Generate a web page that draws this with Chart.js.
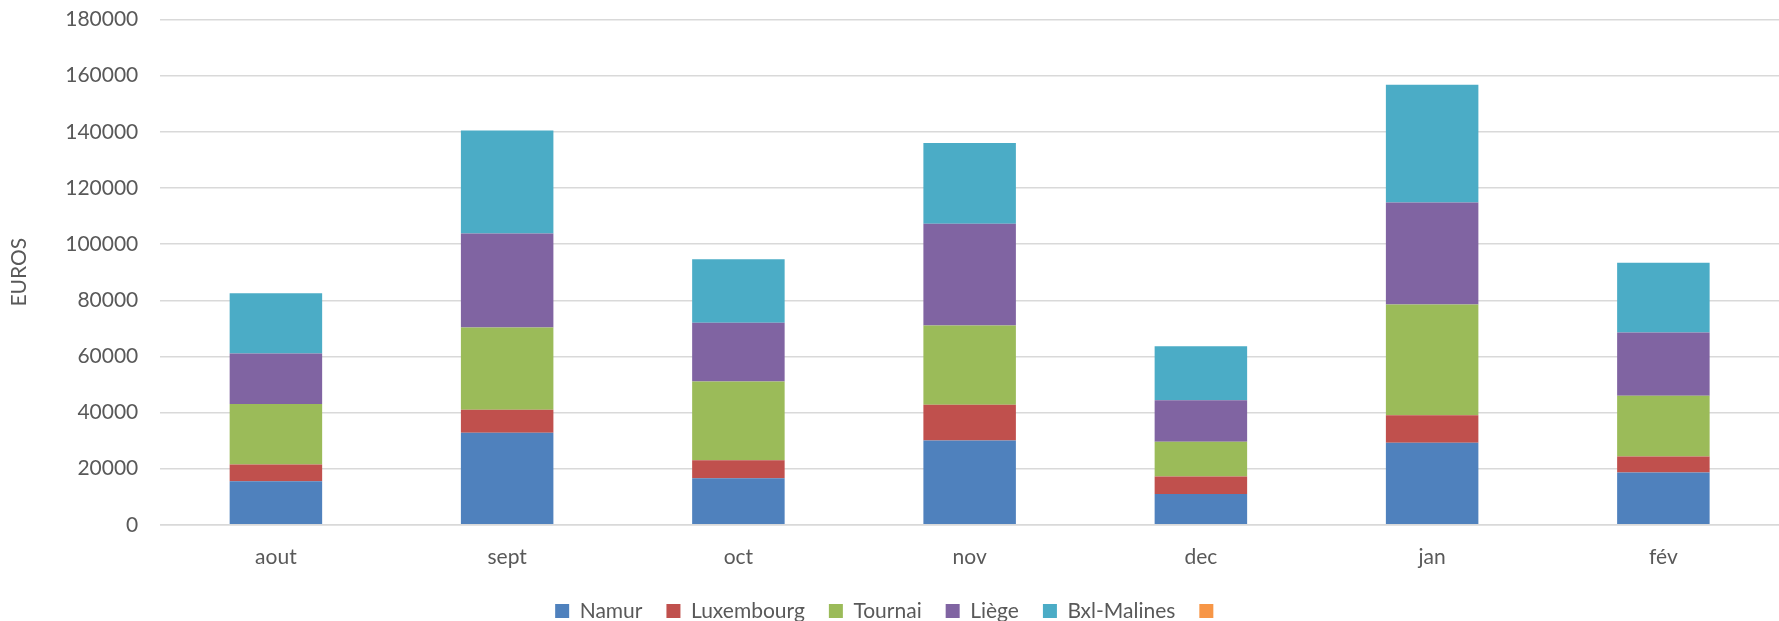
<!DOCTYPE html>
<html>
<head>
<meta charset="utf-8">
<script src="https://cdn.jsdelivr.net/npm/chart.js@4/dist/chart.umd.min.js"></script>
<style>
  html, body { margin: 0; padding: 0; background: #fff; }
  #wrap { width: 1779px; height: 621px; }
</style>
</head>
<body>
<div id="wrap"><canvas id="c" width="1779" height="621"></canvas></div>
<script>
const categories = ['aout', 'sept', 'oct', 'nov', 'dec', 'jan', 'fév'];
const namur      = [15500, 32800, 16600, 30000, 11000, 29200, 18600];
const luxembourg = [6000, 8200, 6400, 12800, 6200, 9800, 5700];
const tournai    = [21500, 29300, 28100, 28200, 12400, 39500, 21700];
const liege      = [18000, 33500, 20900, 36300, 14800, 36300, 22500];
const bxlMalines = [21500, 36700, 22600, 28700, 19200, 42000, 24900];
const extra      = [0, 0, 0, 0, 0, 0, 0];
const yTicks = [0, 20000, 40000, 60000, 80000, 100000, 120000, 140000, 160000, 180000];

const font = "Lato, 'Open Sans', 'Liberation Sans', sans-serif";
const txt = '#595959';
const fs = 21;

new Chart(document.getElementById('c'), {
  type: 'bar',
  data: {
    labels: categories,
    datasets: [
      { label: 'Namur', data: namur, backgroundColor: '#4F81BD' },
      { label: 'Luxembourg', data: luxembourg, backgroundColor: '#C0504D' },
      { label: 'Tournai', data: tournai, backgroundColor: '#9BBB59' },
      { label: 'Liège', data: liege, backgroundColor: '#8064A2' },
      { label: 'Bxl-Malines', data: bxlMalines, backgroundColor: '#4BACC6' },
      { label: '', data: extra, backgroundColor: '#F79646' }
    ]
  },
  options: {
    responsive: false,
    devicePixelRatio: 1,
    animation: false,
    layout: { padding: { top: 0, right: 0, left: 0, bottom: -10.5 } },
    datasets: { bar: { categoryPercentage: 1.0, barPercentage: 0.4, borderWidth: 0 } },
    scales: {
      x: {
        stacked: true,
        grid: { display: true, color: 'rgba(0,0,0,0)', drawTicks: true, tickLength: 12.5, tickColor: 'rgba(0,0,0,0)' },
        border: { display: true, color: '#d9d9d9', width: 1.5 },
        ticks: { color: txt, font: { family: font, size: fs }, padding: 7 }
      },
      y: {
        stacked: true,
        min: 0, max: 180000,
        afterBuildTicks: (axis) => { axis.ticks = yTicks.map(v => ({ value: v })); },
        grid: { color: '#d9d9d9', lineWidth: 1.5, drawTicks: true, tickLength: 15, tickColor: 'rgba(0,0,0,0)' },
        border: { display: false },
        ticks: { color: txt, font: { family: font, size: fs }, padding: 7, callback: (v) => String(v) },
        title: { display: true, text: 'EUROS', color: txt, font: { family: font, size: fs }, padding: { top: 7, bottom: 26 } }
      }
    },
    plugins: {
      legend: {
        position: 'bottom',
        labels: { color: txt, font: { family: font, size: fs }, boxWidth: 14, boxHeight: 14, padding: 24 }
      },
      tooltip: { enabled: false }
    }
  }
});
</script>
</body>
</html>
